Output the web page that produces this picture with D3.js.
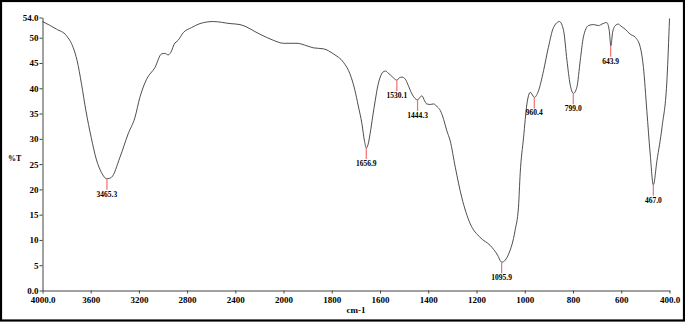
<!DOCTYPE html>
<html>
<head>
<meta charset="utf-8">
<script src="https://cdn.jsdelivr.net/npm/d3@7"></script>
<style>
    body { margin: 0; background: #fff; }
    #chart-area { width: 685px; height: 322px; }
    .axis text { font-family: "Liberation Serif", "Times New Roman", serif; font-size: 9px; font-weight: bold; fill: #000; }
    .axis path, .axis line { stroke: #444; }
    .peak-label { font-family: "Liberation Serif", "Times New Roman", serif; font-size: 7.5px; font-weight: bold; }
</style>
</head>
<body>
<div id="chart-area"></div>
<script>

// spectrum (cm-1, %T)
const wavenumber = [4000, 3884, 3801, 3746, 3713, 3676, 3640, 3596, 3554, 3510, 3465, 3427, 3358, 3289, 3233, 3192,
    3136, 3067, 3012, 2984, 2957, 2929, 2910, 2874, 2832, 2763, 2693, 2583, 2444, 2361, 2196, 2085, 2000,
    1944, 1903, 1876, 1834, 1793, 1751, 1724, 1705, 1690, 1675, 1664, 1657, 1650, 1641, 1630, 1620, 1609,
    1599, 1588, 1577, 1566, 1556, 1543, 1530, 1519, 1509, 1495, 1485, 1468, 1455, 1444, 1435, 1426, 1415,
    1406, 1392, 1378, 1362, 1350, 1336, 1323, 1309, 1288, 1261, 1226, 1185, 1143, 1115, 1095, 1067, 1040,
    1026, 1019, 1005, 991, 977, 960, 943, 922, 902, 881, 856, 839, 825, 812, 798, 784, 770, 757, 736, 715,
    694, 680, 660, 650, 643, 636, 625, 611, 604, 584, 563, 542, 521, 508, 494, 480, 467, 452, 431, 410, 400];

const transmittance = [53.2, 51.7, 50.4, 48.1, 45.5, 40.8, 35.6, 30.3, 26.0, 23.3, 22.1, 22.4, 26.3, 31.0, 34.2, 38.2,
    41.8, 44.1, 46.8, 46.9, 46.6, 47.4, 48.6, 49.5, 51.0, 52.0, 52.8, 53.2, 52.8, 52.6, 50.7, 49.5, 48.9,
    48.9, 48.4, 48.0, 47.8, 46.8, 45.1, 42.8, 39.8, 36.5, 33.0, 29.5, 28.2, 28.8, 31.0, 34.5, 37.5, 40.5,
    42.2, 43.2, 43.4, 43.0, 42.6, 42.0, 41.6, 42.1, 42.2, 41.8, 40.8, 38.9, 38.0, 37.7, 38.2, 38.5, 37.5,
    36.9, 36.8, 36.9, 36.3, 35.6, 33.8, 31.6, 29.6, 24.4, 18.4, 13.2, 10.5, 8.9, 7.2, 5.6, 7.2, 11.9,
    16.5, 23.1, 30.2, 36.9, 39.2, 38.2, 39.5, 43.5, 48.1, 52.0, 53.2, 51.4, 45.5, 40.8, 39.0, 40.2, 45.5, 50.1, 52.4, 52.6,
    52.4, 52.7, 53.0, 51.5, 48.4, 51.0, 52.4, 52.7, 52.4, 51.7, 50.7, 50.1, 48.1, 44.1, 35.6, 27.0, 20.9, 25.7, 32.3, 42.2, 53.8];

const peakWavenumber = [3465.3, 1656.9, 1530.1, 1444.3, 1095.9, 960.4, 799.0, 643.9, 467.0];
const peakTransmittance = [22.1, 28.2, 41.6, 37.7, 5.6, 38.2, 39.0, 48.4, 20.9];
const peakLabels = ["3465.3", "1656.9", "1530.1", "1444.3", "1095.9", "960.4", "799.0", "643.9", "467.0"];

const xTickValues = [4000, 3600, 3200, 2800, 2400, 2000, 1800, 1600, 1400, 1200, 1000, 800, 600, 400];
const xTickLabels = ["4000.0", "3600", "3200", "2800", "2400", "2000", "1800", "1600", "1400", "1200", "1000", "800", "600", "400.0"];
const yTickValues = [0, 5, 10, 15, 20, 25, 30, 35, 40, 45, 50, 54];
const yTickLabels = ["0.0", "5", "10", "15", "20", "25", "30", "35", "40", "45", "50", "54.0"];


class SpectrumViz {

    constructor(_parentElement) {
        this.parentElement = _parentElement;
        this.data = wavenumber.map((w, i) => ({ wn: w, t: transmittance[i] }));
        this.peaks = peakWavenumber.map((w, i) => ({ wn: w, t: peakTransmittance[i], label: peakLabels[i] }));

        this.initVis();
    }

    /*
     * Initialize visualization (frame, scales, axes)
     */
    initVis() {
        let vis = this;

        vis.width = 685;
        vis.height = 322;

        vis.svg = d3.select("#" + vis.parentElement).append("svg")
            .attr("width", vis.width)
            .attr("height", vis.height);

        // black frame round the picture
        vis.svg.append("rect")
            .attr("x", 1)
            .attr("y", 1)
            .attr("width", 683)
            .attr("height", 319.5)
            .attr("fill", "none")
            .attr("stroke", "#000")
            .attr("stroke-width", 2.2);

        // 4000-2000 is squeezed to half the scale of 2000-400
        vis.x = d3.scaleLinear()
            .domain([4000, 2000, 400])
            .range([42.5, 283.5, 669.5]);

        vis.y = d3.scaleLinear()
            .domain([0, 54])
            .range([290.5, 17.5]);

        vis.xAxis = d3.axisBottom(vis.x)
            .tickValues(xTickValues)
            .tickFormat((d, i) => xTickLabels[i])
            .tickSize(3)
            .tickSizeOuter(0)
            .tickPadding(3);

        vis.yAxis = d3.axisLeft(vis.y)
            .tickValues(yTickValues)
            .tickFormat((d, i) => yTickLabels[i])
            .tickSize(3)
            .tickSizeOuter(0)
            .tickPadding(1);

        vis.svg.append("g")
            .attr("class", "x-axis axis")
            .attr("transform", "translate(0," + vis.y(0) + ")")
            .call(vis.xAxis);

        vis.svg.append("g")
            .attr("class", "y-axis axis")
            .attr("transform", "translate(" + vis.x(4000) + ",0)")
            .call(vis.yAxis);

        // axis titles
        vis.svg.append("text")
            .attr("x", 8)
            .attr("y", 161)
            .style("font-family", "Liberation Serif, serif")
            .style("font-size", "8px")
            .style("font-weight", "bold")
            .text("%T");

        vis.svg.append("text")
            .attr("x", 356)
            .attr("y", 313)
            .attr("text-anchor", "middle")
            .style("font-family", "Liberation Serif, serif")
            .style("font-size", "9px")
            .style("font-weight", "bold")
            .text("cm-1");

        vis.updateVis();
    }

    /*
     * The drawing function
     */
    updateVis() {
        let vis = this;

        let line = d3.line()
            .x(d => vis.x(d.wn))
            .y(d => vis.y(d.t))
            .curve(d3.curveMonotoneX);

        vis.svg.append("path")
            .datum(vis.data)
            .attr("class", "spectrum")
            .attr("fill", "none")
            .attr("stroke", "#3a3a3a")
            .attr("stroke-width", 0.9)
            .attr("d", line);

        // peak markers
        let marks = vis.svg.selectAll(".peak")
            .data(vis.peaks)
            .enter()
            .append("g")
            .attr("class", "peak");

        marks.append("line")
            .attr("x1", d => vis.x(d.wn))
            .attr("x2", d => vis.x(d.wn))
            .attr("y1", d => vis.y(d.t))
            .attr("y2", d => vis.y(d.t) + 11)
            .attr("stroke", "#f07070")
            .attr("stroke-width", 1.2);

        marks.append("text")
            .attr("class", "peak-label")
            .attr("x", d => vis.x(d.wn))
            .attr("y", d => vis.y(d.t) + 18)
            .attr("text-anchor", "middle")
            .text(d => d.label);
    }
}

new SpectrumViz("chart-area");
</script>
</body>
</html>
